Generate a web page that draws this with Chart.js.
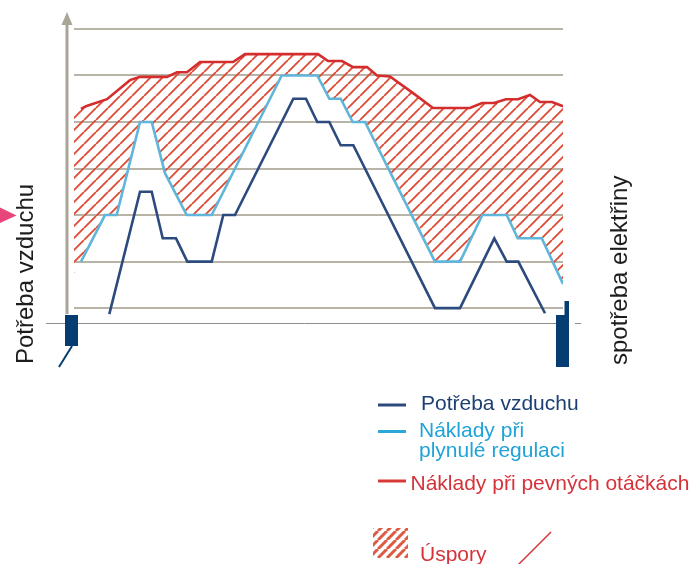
<!DOCTYPE html>
<html>
<head>
<meta charset="utf-8">
<script src="https://cdn.jsdelivr.net/npm/chart.js@4/dist/chart.umd.min.js"></script>
<style>
  html, body { margin: 0; padding: 0; background: #ffffff; }
  canvas { display: block; }
</style>
</head>
<body>
<canvas id="c" width="697" height="564"></canvas>
<script>
// ---------- data ----------
const seriesLabels = ['Potřeba vzduchu', 'Náklady při\nplynulé regulaci', 'Náklady při pevných otáčkách', 'Úspory'];
const axisTitleLeft = 'Potřeba vzduchu';
const axisTitleRight = 'spotřeba elektřiny';

// fixed-speed cost (red)
const timeFixed = [1.43, 2.45, 6.75, 11.45, 13.5, 19.02, 21.06, 23.11, 25.77, 32.52, 34.97, 49.9, 51.94, 54.81, 57.06, 59.92, 61.96, 64.62, 69.33, 73.42, 80.98, 83.44, 85.89, 88.34, 90.8, 93.25, 95.3, 97.75, 100];
const costFixed = [4.28, 4.34, 4.49, 4.9, 4.97, 4.97, 5.07, 5.07, 5.29, 5.29, 5.46, 5.46, 5.31, 5.31, 5.18, 5.18, 5.0, 4.98, 4.62, 4.3, 4.3, 4.41, 4.41, 4.49, 4.49, 4.58, 4.43, 4.43, 4.34];

// variable-speed cost (light blue)
const timeVariable = [1.43, 6.34, 8.73, 13.5, 15.89, 18.61, 23.05, 28.16, 42.47, 49.75, 52.21, 54.54, 56.99, 59.51, 73.82, 78.94, 83.5, 88.49, 90.74, 95.65, 100];
const costVariable = [1.0, 2.0, 2.0, 4.0, 4.0, 2.9, 2.0, 2.0, 5.0, 5.0, 4.5, 4.5, 4.0, 4.0, 1.0, 1.0, 2.0, 2.0, 1.5, 1.5, 0.52];

// air demand (navy)
const timeAir = [7.22, 13.5, 15.89, 18.14, 20.86, 23.17, 28.16, 30.53, 32.92, 44.85, 47.44, 49.75, 52.21, 54.54, 57.12, 73.82, 78.94, 85.95, 88.49, 90.86, 96.32];
const airDemand = [-0.13, 2.5, 2.5, 1.5, 1.5, 1.0, 1.0, 2.0, 2.0, 4.5, 4.5, 4.0, 4.0, 3.5, 3.5, 0.0, 0.0, 1.5, 1.0, 1.0, -0.11];

// left edge of the hatched savings area
const savingsEdgeTime = [0];
const savingsEdgeTop = [4.21];
const savingsEdgeBottom = [0.75];

// ---------- helpers ----------
const pts = (xs, ys) => xs.map((x, i) => ({ x: x, y: ys[i] }));
const FONT = "'Liberation Sans', Arial, Helvetica, sans-serif";

const canvas = document.getElementById('c');
const ctx = canvas.getContext('2d');

function hatchPattern(period, width, color) {
  const c = document.createElement('canvas');
  c.width = period; c.height = period;
  const g = c.getContext('2d');
  g.strokeStyle = color;
  g.lineWidth = width;
  g.beginPath();
  for (let k = -1; k <= 1; k++) {
    g.moveTo(k * period, period);
    g.lineTo(k * period + period, 0);
  }
  g.stroke();
  return ctx.createPattern(c, 'repeat');
}

const C_NAVY = '#2c4a7d';
const C_LIGHT = '#5fb5da';
const C_RED = '#d42d2d';
const hatchFill = hatchPattern(12, 1.9, '#de4d38');
const hatchSwatch = hatchPattern(9, 3, '#dc5a42');

// ---------- decorations & custom legend ----------
const decorations = {
  id: 'decorations',
  beforeDatasetsDraw(chart) {
    const c = chart.ctx;
    const y0 = chart.scales.y.getPixelForValue(-0.32);
    c.save();
    // baseline
    c.strokeStyle = '#8c8c8c';
    c.lineWidth = 1;
    c.beginPath();
    c.moveTo(46, Math.round(y0) + 0.5);
    c.lineTo(563, Math.round(y0) + 0.5);
    c.moveTo(575, Math.round(y0) + 0.5);
    c.lineTo(581, Math.round(y0) + 0.5);
    c.stroke();
    // vertical axis with arrow
    c.strokeStyle = '#a9a697';
    c.lineWidth = 3;
    c.beginPath();
    c.moveTo(67, 314);
    c.lineTo(67, 22);
    c.stroke();
    c.fillStyle = '#a9a697';
    c.beginPath();
    c.moveTo(67, 12);
    c.lineTo(61.5, 25);
    c.lineTo(72.5, 25);
    c.closePath();
    c.fill();
    c.restore();
  },
  afterDraw(chart) {
    const c = chart.ctx;
    c.save();
    // navy blocks
    c.fillStyle = '#053d72';
    c.fillRect(65, 315, 13, 31);
    c.fillRect(556, 315, 13, 52);
    c.fillRect(564.5, 301, 4.5, 15);
    // small navy stroke
    c.strokeStyle = '#053d72';
    c.lineWidth = 2;
    c.beginPath();
    c.moveTo(59, 367);
    c.lineTo(72, 346);
    c.stroke();
    // pink pointer
    c.fillStyle = '#e8457b';
    c.beginPath();
    c.moveTo(0, 207.5);
    c.lineTo(16.5, 215.5);
    c.lineTo(0, 223);
    c.closePath();
    c.fill();

    // rotated axis titles
    c.fillStyle = '#1d1d1d';
    c.font = '24px ' + FONT;
    c.textAlign = 'left';
    c.textBaseline = 'alphabetic';
    c.save();
    c.translate(33, 364);
    c.rotate(-Math.PI / 2);
    c.fillText(axisTitleLeft, 0, 0);
    c.restore();
    c.save();
    c.translate(627, 365);
    c.rotate(-Math.PI / 2);
    c.fillText(axisTitleRight, 0, 0);
    c.restore();

    // legend
    const ds = chart.data.datasets;
    c.font = '21px ' + FONT;
    const entries = [
      { color: ds[0].borderColor, text: '#1e3f73', dashY: 405, tx: 421, ty: [410] },
      { color: '#2ba7da', text: '#1fa3d8', dashY: 431.5, tx: 419, ty: [437, 457] },
      { color: '#d63a36', text: '#d6323a', dashY: 481, tx: 410.5, ty: [490] }
    ];
    entries.forEach((e, i) => {
      c.strokeStyle = e.color;
      c.lineWidth = 3;
      c.beginPath();
      c.moveTo(378, e.dashY);
      c.lineTo(406, e.dashY);
      c.stroke();
      c.fillStyle = e.text;
      seriesLabels[i].split('\n').forEach((line, k) => c.fillText(line, e.tx, e.ty[k]));
    });
    // hatch swatch
    c.fillStyle = hatchSwatch;
    c.fillRect(373, 528, 35, 30);
    c.fillStyle = '#d6323a';
    c.fillText(seriesLabels[3], 420, 561);
    // thin red pointer line
    c.strokeStyle = '#d42f35';
    c.lineWidth = 1.4;
    c.beginPath();
    c.moveTo(518, 565);
    c.lineTo(551, 532);
    c.stroke();
    c.restore();
  }
};

// ---------- chart ----------
new Chart(ctx, {
  type: 'line',
  data: {
    datasets: [
      { label: seriesLabels[0], data: pts(timeAir, airDemand), borderColor: C_NAVY, borderWidth: 2.6, pointRadius: 0, fill: false, tension: 0 },
      { label: seriesLabels[1], data: pts(timeVariable, costVariable), borderColor: C_LIGHT, borderWidth: 2.6, pointRadius: 0, fill: false, tension: 0 },
      { label: seriesLabels[2], data: pts(timeFixed, costFixed), borderColor: C_RED, borderWidth: 2.6, pointRadius: 0, fill: false, tension: 0 },
      { label: 'savings-bottom', data: pts(savingsEdgeTime.concat(timeVariable), savingsEdgeBottom.concat(costVariable)), borderWidth: 0, borderColor: 'rgba(0,0,0,0)', pointRadius: 0, fill: false, tension: 0 },
      { label: seriesLabels[3], data: pts(savingsEdgeTime.concat(timeFixed), savingsEdgeTop.concat(costFixed)), borderWidth: 0, borderColor: 'rgba(0,0,0,0)', backgroundColor: hatchFill, pointRadius: 0, fill: 3, tension: 0 }
    ]
  },
  options: {
    responsive: false,
    animation: false,
    devicePixelRatio: 1,
    layout: { padding: { left: 74, right: 134, top: 15, bottom: 241 } },
    plugins: { legend: { display: false }, tooltip: { enabled: false }, title: { display: false } },
    scales: {
      x: { type: 'linear', min: 0, max: 100, display: false },
      y: {
        type: 'linear', min: -0.32, max: 6.3,
        border: { display: false },
        ticks: { display: false, stepSize: 1, includeBounds: false },
        grid: {
          drawTicks: false,
          lineWidth: 2,
          color: (c) => (c.tick && Number.isInteger(c.tick.value) && c.tick.value >= 0) ? '#b8b5a8' : 'rgba(0,0,0,0)'
        }
      }
    }
  },
  plugins: [decorations]
});
</script>
</body>
</html>
